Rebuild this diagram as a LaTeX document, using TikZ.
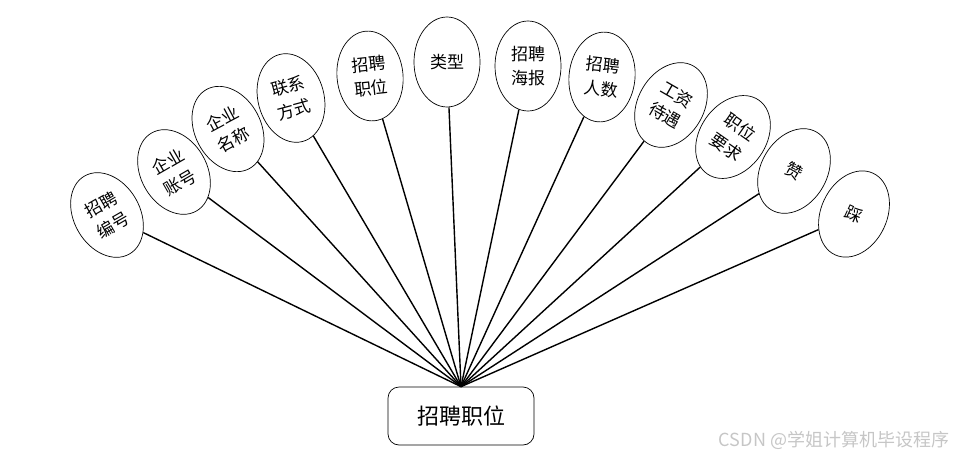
\documentclass[tikz,border=0pt]{standalone}
\usepackage{fontspec}
\newfontfamily\cjk{Noto Sans CJK SC}
\usepackage{tikz}
\usetikzlibrary{shapes.geometric}

\begin{document}
\begin{tikzpicture}[x=1pt, y=1pt,
    attr/.style={ellipse, draw, line width=0.7pt, minimum width=66pt, minimum height=90pt,
      inner sep=0pt, align=center, font=\cjk\fontsize{17}{24}\selectfont},
    entity/.style={draw, line width=0.7pt, rounded corners=11pt, minimum width=146pt,
      minimum height=58pt, font=\cjk\fontsize{22}{26}\selectfont},
    conn/.style={line width=1.4pt}]
    \useasboundingbox (0, 0) rectangle (960, 459);
    \node[entity] (zpzw) at (461, 43) {招聘职位};
    % attributes, left to right
    \node[attr, rotate=30] (bh) at (107, 244) {招聘\\编号};
    \node[attr, rotate=30] (zh) at (174, 287) {企业\\账号};
    \node[attr, rotate=28] (mc) at (228, 330) {企业\\名称};
    \node[attr, rotate=15] (fs) at (291, 361) {联系\\方式};
    \node[attr, rotate=6] (zw) at (370, 383) {招聘\\职位};
    \node[attr] (lx) at (447, 397) {类型};
    \node[attr] (hb) at (528, 393) {招聘\\海报};
    \node[attr, rotate=-6] (rs) at (602, 382) {招聘\\人数};
    \node[attr, rotate=-30] (dy) at (671, 354) {工资\\待遇};
    \node[attr, rotate=-35] (yq) at (733, 322) {职位\\要求};
    \node[attr, rotate=-30] (zan) at (794, 288) {赞};
    \node[attr, rotate=-25] (cai) at (854, 245) {踩};
    % connectors to the entity
    \draw[conn] (zpzw.north) -- (bh);
    \draw[conn] (zpzw.north) -- (zh);
    \draw[conn] (zpzw.north) -- (mc);
    \draw[conn] (zpzw.north) -- (fs);
    \draw[conn] (zpzw.north) -- (zw);
    \draw[conn] (zpzw.north) -- (lx);
    \draw[conn] (zpzw.north) -- (hb);
    \draw[conn] (zpzw.north) -- (rs);
    \draw[conn] (zpzw.north) -- (dy);
    \draw[conn] (zpzw.north) -- (yq);
    \draw[conn] (zpzw.north) -- (zan);
    \draw[conn] (zpzw.north) -- (cai);
    \node[gray!45, font=\cjk\fontsize{18}{20}\selectfont] (mark) at (834, 19) {CSDN @学姐计算机毕设程序};
\end{tikzpicture}
\end{document}
